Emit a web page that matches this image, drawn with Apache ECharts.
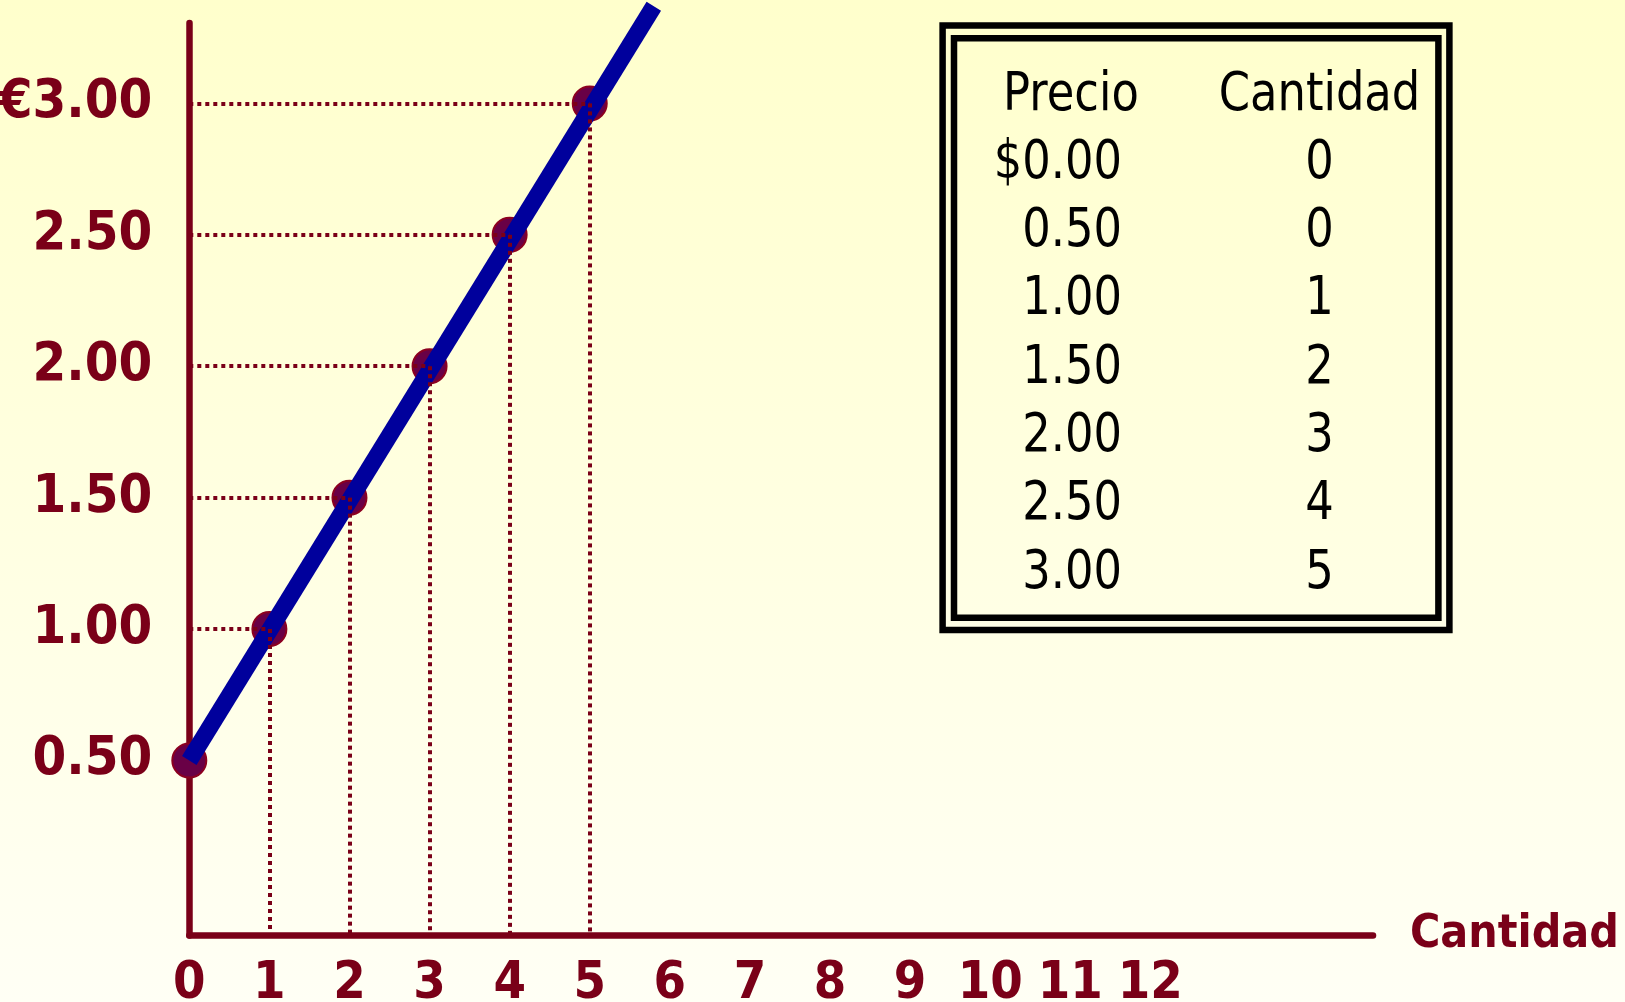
<!DOCTYPE html>
<html>
<head>
<meta charset="utf-8">
<script src="https://cdn.jsdelivr.net/npm/echarts@6/dist/echarts.min.js"></script>
<style>
html,body{margin:0;padding:0;background:#FFFFE6;}
#chart{width:1625px;height:1002px;}
</style>
</head>
<body>
<div id="chart"></div>
<script>
// ---- data ----
const quantities = [0, 1, 2, 3, 4, 5];
const prices = [0.50, 1.00, 1.50, 2.00, 2.50, 3.00];
const supplyLineQuantity = [0, 5.8];
const supplyLinePrice = [0.50, 3.37];
const xTickValues = [0, 1, 2, 3, 4, 5, 6, 7, 8, 9, 10, 11, 12];
const yTickValues = [0.5, 1.0, 1.5, 2.0, 2.5, 3.0];
const yTickLabels = ['0.50', '1.00', '1.50', '2.00', '2.50', '€3.00'];
const xAxisName = 'Cantidad';
const tableHeaders = ['Precio', 'Cantidad'];
const tablePrices = ['$0.00', '0.50', '1.00', '1.50', '2.00', '2.50', '3.00'];
const tableQuantities = ['0', '0', '1', '2', '3', '4', '5'];

// ---- layout / style ----
const MAROON = '#7A0018';
const Y_MIN = -0.166, Y_MAX = 3.306;
const X_MIN = 0, X_MAX = 14.78;
const BOLD_FONT = "'DejaVu Sans Condensed', 'Lato', sans-serif";
const TABLE_FONT = "'DejaVu Sans', sans-serif";

const chart = echarts.init(document.getElementById('chart'), null, {renderer: 'canvas'});

const guideLines = [];
quantities.forEach((q, i) => {
  if (q > 0) {
    guideLines.push([{coord: [X_MIN, prices[i]]}, {coord: [q, prices[i]]}]);
    guideLines.push([{coord: [q, prices[i]]}, {coord: [q, Y_MIN]}]);
  }
});

// table graphics
const tableGraphics = [
  {type: 'rect', shape: {x: 942.6, y: 25.6, width: 506.8, height: 604.4},
   style: {fill: 'none', stroke: '#000', lineWidth: 6.5}, silent: true},
  {type: 'rect', shape: {x: 954, y: 38.3, width: 484.4, height: 579.4},
   style: {fill: 'none', stroke: '#000', lineWidth: 6.5}, silent: true}
];
const ROW0 = 110, ROW_STEP = 68.3, MID = 14.5, SX = 0.83;
function tText(str, x, baseline, align) {
  return {type: 'text', x: x, y: baseline - MID, scaleX: SX, silent: true,
    style: {text: str, fill: '#000', fontSize: 54, fontFamily: TABLE_FONT,
            align: align, verticalAlign: 'middle'}};
}
tableGraphics.push(tText(tableHeaders[0], 1071, ROW0, 'center'));
tableGraphics.push(tText(tableHeaders[1], 1319.5, ROW0, 'center'));
tablePrices.forEach((p, i) => {
  tableGraphics.push(tText(p, 1122, ROW0 + ROW_STEP * (i + 1), 'right'));
  tableGraphics.push(tText(tableQuantities[i], 1319.5, ROW0 + ROW_STEP * (i + 1), 'center'));
});

const option = {
  animation: false,
  backgroundColor: {
    type: 'linear', x: 0, y: 0, x2: 0, y2: 1,
    colorStops: [{offset: 0, color: '#FFFFCC'}, {offset: 1, color: '#FFFFF5'}]
  },
  grid: {left: 189.3, right: 252, top: 23, bottom: 66.5, containLabel: false, outerBoundsMode: 'none'},
  xAxis: {
    type: 'value', min: X_MIN, max: X_MAX,
    name: xAxisName, nameLocation: 'end', nameGap: 37,
    nameTextStyle: {color: MAROON, fontFamily: BOLD_FONT, fontWeight: 'bold', fontSize: 46,
                    padding: [0, 0, 14, 0]},
    axisLine: {show: true, onZero: false, lineStyle: {color: MAROON, width: 6.5}},
    axisTick: {show: false},
    splitLine: {show: false},
    axisLabel: {
      customValues: xTickValues,
      color: MAROON, fontFamily: BOLD_FONT, fontWeight: 'bold', fontSize: 52,
      margin: 23,
      formatter: v => String(v)
    }
  },
  yAxis: {
    type: 'value', min: Y_MIN, max: Y_MAX,
    axisLine: {show: true, onZero: false, lineStyle: {color: MAROON, width: 6.5}},
    axisTick: {show: false},
    splitLine: {show: false},
    axisLabel: {
      customValues: yTickValues,
      color: MAROON, fontFamily: BOLD_FONT, fontWeight: 'bold', fontSize: 54,
      margin: 37,
      formatter: v => {
        const idx = yTickValues.findIndex(t => Math.abs(t - v) < 1e-6);
        return idx >= 0 ? yTickLabels[idx] : '';
      }
    }
  },
  graphic: tableGraphics,
  series: [
    {
      type: 'line', data: [], z: 1, silent: true,
      markLine: {
        silent: true, symbol: ['none', 'none'], animation: false,
        label: {show: false},
        lineStyle: {color: MAROON, width: 4, type: [4, 4], opacity: 1},
        emphasis: {disabled: true},
        data: guideLines
      }
    },
    {
      type: 'scatter', z: 2, silent: true,
      symbol: 'circle', symbolSize: 34,
      itemStyle: {color: '#690046', borderColor: '#8C0020', borderWidth: 2, opacity: 1},
      data: quantities.map((q, i) => [q, prices[i]])
    },
    {
      type: 'line', z: 3, silent: true, clip: false,
      symbol: 'none', showSymbol: false,
      lineStyle: {color: '#00009C', width: 17, cap: 'butt'},
      data: supplyLineQuantity.map((q, i) => [q, supplyLinePrice[i]])
    }
  ]
};
chart.setOption(option);
</script>
</body>
</html>
